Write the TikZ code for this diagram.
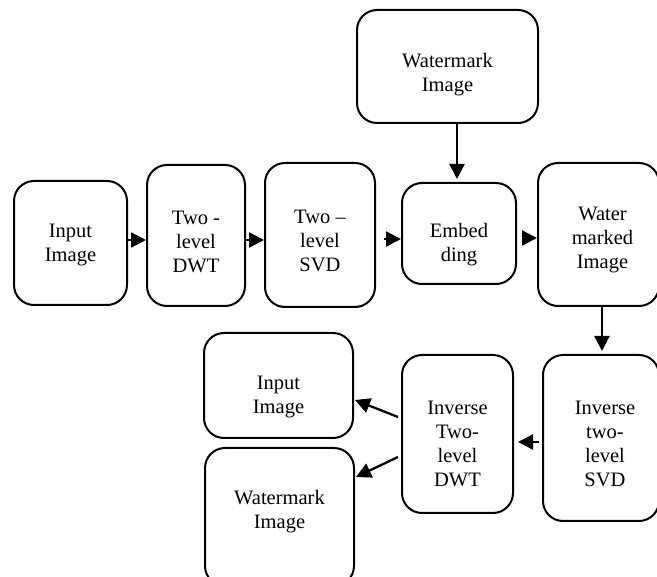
\documentclass[tikz,border=0pt]{standalone}
\usepackage{fontspec}
\setmainfont{Liberation Serif}
\usetikzlibrary{arrows.meta}
\begin{document}
\begin{tikzpicture}[x=1pt,y=-1pt,
  box/.style={draw=black, line width=2pt, rounded corners=20pt, inner sep=0pt},
  txt/.style={align=center, inner sep=0pt, font=\fontsize{20.5}{24}\selectfont},
  arr/.style={line width=2.3pt, -{Triangle[length=15pt,width=15pt]}}]
\useasboundingbox (0,0) rectangle (657,577);
\clip (0,0) rectangle (657,577);
% name, x1, y1, x2, y2, text shift (x,y), text
\newcommand\bx[7]{\node[box, minimum width=#4-#2, minimum height=#5-#3] (#1) at ({(#2+#4)/2},{(#3+#5)/2}) {};
  \node[txt] (#1t) at ([shift={(#6)}]#1.center) {#7};}
\bx{in1}{14}{181}{127}{305}{0,2}{Input\\Image}
\bx{dwt}{147}{165}{245}{306}{0,6}{Two -\\level\\DWT}
\bx{svd}{265}{163}{375}{307}{0,6}{Two –\\level\\SVD}
\bx{wm1}{357}{10}{538}{123}{0,8}{Watermark\\Image}
\bx{emb}{402}{183}{516}{284}{0,11}{Embed\\ding}
\bx{wmd}{538}{163}{659}{306}{4,6}{Water\\marked\\Image}
\bx{isvd}{543}{355}{659}{521}{4,6}{Inverse\\two-\\level\\SVD}
\bx{idwt}{402}{355}{513}{513}{0,10}{Inverse\\Two-\\level\\DWT}
\bx{in2}{204}{333}{353}{438}{0,12}{Input\\Image}
\bx{wm2}{205}{448}{354}{586}{0,-5}{Watermark\\Image}

\draw[arr] (in1.east |- 0,240) -- (dwt.west |- 0,240);
\draw[arr] (dwt.east |- 0,240) -- (svd.west |- 0,240);
\draw[arr, shorten <=8pt] (svd.east |- 0,239) -- (emb.west |- 0,239);
\draw[arr, shorten >=3pt] (wm1.south -| 457,0) -- (emb.north -| 457,0);
\draw[arr, shorten <=7pt] (emb.east |- 0,238) -- (wmd.west |- 0,238);
\draw[arr, shorten >=3pt] (wmd.south -| 602,0) -- (isvd.north -| 602,0);
\draw[arr, shorten <=3pt, shorten >=4pt] (isvd.west |- 0,442) -- (idwt.east |- 0,442);
\draw[arr] ([shift={(-3,-17)}]idwt.west) -- ([shift={(1,14.5)}]in2.east);
\draw[arr] ([shift={(-3,23)}]idwt.west) -- ([shift={(1,-40)}]wm2.east);
\end{tikzpicture}
\end{document}
